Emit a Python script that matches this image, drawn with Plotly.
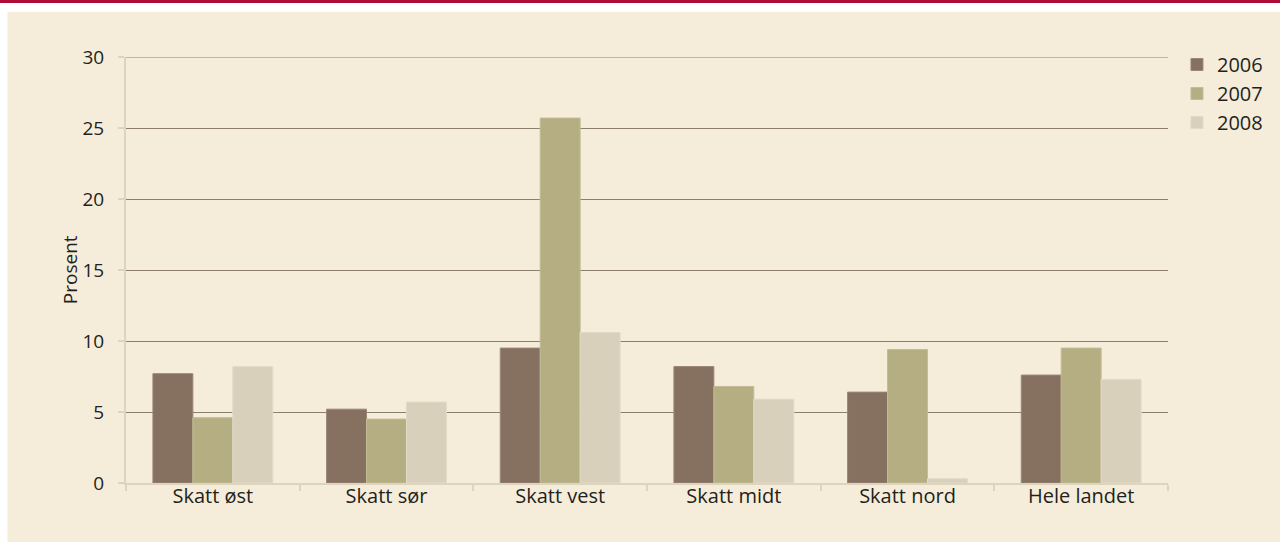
import plotly.graph_objects as go

categories = ["Skatt øst", "Skatt sør", "Skatt vest", "Skatt midt", "Skatt nord", "Hele landet"]
years = ["2006", "2007", "2008"]
v2006 = [7.7, 5.2, 9.5, 8.2, 6.4, 7.6]
v2007 = [4.6, 4.5, 25.7, 6.8, 9.4, 9.5]
v2008 = [8.2, 5.7, 10.6, 5.9, 0.3, 7.3]
y_ticks = [0, 5, 10, 15, 20, 25, 30]
y_title = "Prosent"

colors = ["#86705F", "#B5AE82", "#D9D0BB"]
edges = ["#9A8778", "#C3BC95", "#E2DAC7"]
FONT = "Open Sans"
GRID = "#8E7E6E"

fig = go.Figure()
for name, vals, c, e in zip(years, [v2006, v2007, v2008], colors, edges):
    fig.add_trace(go.Bar(x=categories, y=vals, name=name,
                         marker=dict(color=c, line=dict(color=e, width=1))))

L, R, T, B = 126, 108, 57, 59
W, H = 1280, 542
pw, ph = W - L - R, H - T - B

def px(x):
    return (x - L) / pw

def py(y):
    return (H - B - y) / ph

shapes = [
    dict(type="rect", xref="paper", yref="paper", x0=px(7), x1=px(W + 5), y0=py(H + 5), y1=py(12),
         fillcolor="#F5EDDA", line=dict(width=0), layer="below"),
    dict(type="rect", xref="paper", yref="paper", x0=px(-5), x1=px(W + 5), y0=py(3), y1=py(-5),
         fillcolor="#B00B3A", line=dict(width=0), layer="below"),
    dict(type="line", xref="paper", yref="y", x0=0, x1=1, y0=y_ticks[-1], y1=y_ticks[-1],
         line=dict(color=GRID, width=1), layer="below"),
]

fig.update_layout(
    width=W, height=H,
    margin=dict(l=L, r=R, t=T, b=B),
    paper_bgcolor="white",
    plot_bgcolor="rgba(0,0,0,0)",
    barmode="group",
    bargap=0.31,
    bargroupgap=0,
    shapes=shapes,
    font=dict(family=FONT, size=19, color="#231F20"),
    legend=dict(x=px(1181), y=py(45), xanchor="left", yanchor="top",
                font=dict(size=20, family=FONT, color="#231F20"),
                bgcolor="rgba(0,0,0,0)", itemwidth=30, tracegroupgap=0),
    xaxis=dict(
        showgrid=False, showline=True, linecolor="#DDD4C0", linewidth=2,
        ticks="outside", tickson="boundaries", ticklen=6, tickcolor="#DDD4C0", tickwidth=2,
        ticklabelstandoff=-6,
        tickfont=dict(size=20, family=FONT), fixedrange=True,
    ),
    yaxis=dict(
        range=[0, 30], tickvals=y_ticks, ticktext=[str(t) for t in y_ticks],
        showgrid=True, gridcolor=GRID, gridwidth=1,
        zeroline=False, showline=True, linecolor="#DDD4C0", linewidth=2,
        ticks="outside", ticklen=6, tickcolor="#DDD4C0", tickwidth=2,
        ticklabelstandoff=10,
        tickfont=dict(size=19, family=FONT), fixedrange=True,
    ),
    annotations=[dict(text=y_title, xref="paper", yref="paper", x=px(70), y=py(270),
                      xanchor="center", yanchor="middle", textangle=-90, showarrow=False,
                      font=dict(size=19, family=FONT, color="#231F20"))],
)

fig.write_html("out.html", post_script="document.body.style.margin='0';",
               config={"displayModeBar": False})
